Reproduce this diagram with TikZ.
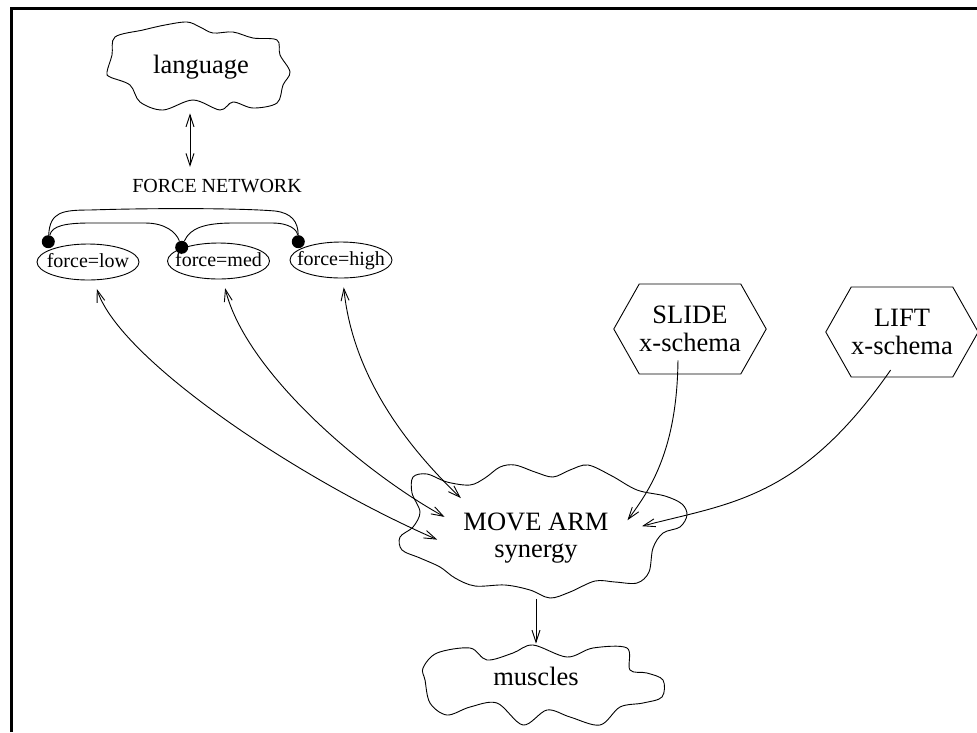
\documentclass[tikz,border=0pt]{standalone}
\usepackage{fontspec}
\setmainfont{Liberation Serif}
\usetikzlibrary{arrows.meta,shapes.geometric,shapes.symbols}

\begin{document}
\begin{tikzpicture}[x=1pt,y=-1pt,line width=0.9pt,>={Straight Barb[length=12pt,width=8pt]}]
	\tikzstyle{big}=[font=\fontsize{26.5}{27.5}\selectfont]
	\tikzstyle{small}=[font=\fontsize{20}{22}\selectfont]
	\tikzstyle{val}=[ellipse,draw,small,minimum width=102pt,minimum height=36pt,inner xsep=-8pt,inner ysep=0pt,text height=14pt,text depth=4pt]
	\tikzstyle{dot}=[circle,fill=black,minimum size=13pt,inner sep=0pt]
	\tikzstyle{xschema}=[signal,signal to=west and east,signal pointer angle=121,draw,big,align=center,minimum width=150pt,minimum height=90pt,inner sep=0pt]

	\useasboundingbox (0,0) rectangle (977,732);
	\draw[line width=2.7pt] (11.3,732) -- (11.3,8.7) -- (977,8.7);

	% clouds
	\draw plot[smooth cycle,tension=0.55] coordinates {(107,72) (112,55) (115,37) (143,30) (165,25) (187,22) (200,27) (213,33) (233,32) (253,38) (277,40) (280,55) (290,72) (283,85) (277,103) (253,108) (233,102) (220,110) (193,100) (163,110) (140,102) (130,85) (110,77)};
	\draw plot[smooth cycle,tension=0.55] coordinates {(413,477) (427,474) (447,482) (470,485) (485,478) (500,467) (515,465) (535,472) (553,477) (570,470) (588,465) (612,476) (637,490) (665,496) (682,504) (687,515) (680,527) (663,533) (653,548) (649,572) (637,583) (615,582) (595,581) (570,592) (550,598) (530,590) (505,585) (475,586) (455,578) (440,567) (420,558) (402,550) (400,537) (413,527) (420,512) (412,493)};
	\draw plot[smooth cycle,tension=0.55] coordinates {(423,668) (437,653) (470,648) (487,660) (513,653) (533,645) (567,657) (593,648) (627,648) (630,670) (647,673) (663,680) (662,697) (643,703) (620,707) (600,725) (570,717) (547,710) (523,725) (497,703) (470,707) (447,715) (430,703) (425,680)};

	\node[big,minimum width=183pt,minimum height=88pt] (lang) at (201,67) {language};
	\node[small,inner sep=2pt] (fnet) at (217,186) {FORCE NETWORK};
	\node[val] (low) at (88,262) {force=low};
	\node[val] (med) at (218.5,261) {force=med};
	\node[val] (high) at (341,260) {force=high};
	\node[dot] (dlow) at (48.3,241.7) {};
	\node[dot] (dmed) at (181.7,247.3) {};
	\node[dot] (dhigh) at (298.3,241.7) {};
	\node[xschema] (slide) at (690,329) {SLIDE\\x-schema};
	\node[xschema] (lift) at (902,332) {LIFT\\x-schema};
	\node[big,align=center,minimum width=182pt,minimum height=79pt,inner sep=0pt] (move) at (536,538) {MOVE ARM\\synergy};
	\node[big,minimum height=64pt] (musc) at (536,676) {muscles};

	\draw[<->,shorten <=2pt,shorten >=10pt] ([xshift=-11pt]lang.south) -- ([xshift=-27pt]fnet.north);

	% links inside the force network
	\draw (dlow) .. controls (50,212) and (62,210) .. (90,210) .. controls (150,208) and (240,208) .. (275,211) .. controls (292,213) and (298,222) .. (dhigh);
	\draw (dlow) .. controls (52,226) and (65,223) .. (90,223) -- (145,223) .. controls (165,223) and (176,232) .. (dmed);
	\draw (dmed) .. controls (190,228) and (205,223) .. (233,223) -- (272,223) .. controls (290,223) and (297,230) .. (dhigh);

	\draw[<->,shorten <=9pt,shorten >=8pt] (low) .. controls (120,360) and (300,480) .. (move.183);
	\draw[<->,shorten <=9pt] (med) .. controls (245,370) and (360,470) .. (move.167);
	\draw[<->,shorten <=9pt] (high) .. controls (352,370) and (400,440) .. (move.152);
	\draw[->,shorten <=-14pt] (slide.-105) .. controls (677,450) and (650,490) .. (move.11);
	\draw[->,shorten <=-9pt,shorten >=15pt] (lift.-110) .. controls (800,500) and (730,503) .. (move.5);
	\draw[->,shorten <=21pt] (move.south) -- (musc.north);
\end{tikzpicture}
\end{document}
